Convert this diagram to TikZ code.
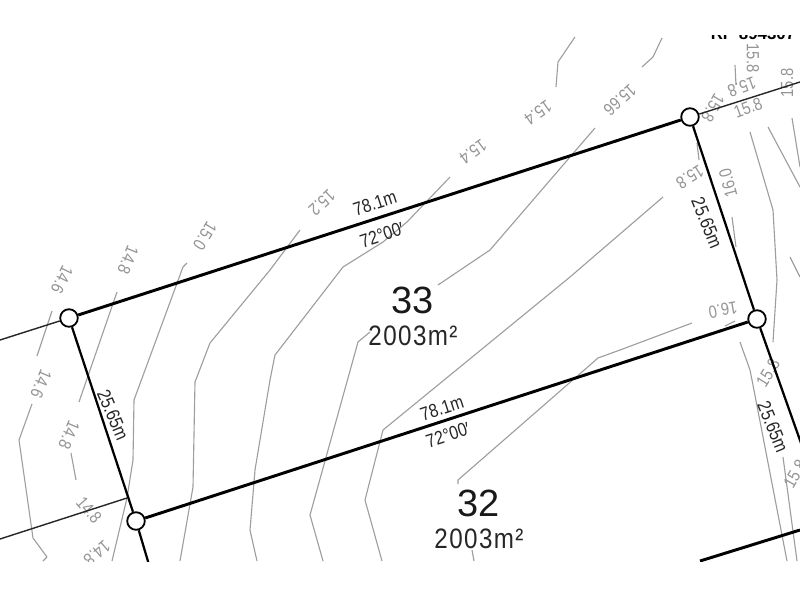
\documentclass[tikz,border=0pt]{standalone}
\usepackage{fontspec}
\setmainfont{Liberation Sans}
\newfontfamily\planfont[FakeStretch=0.84]{Liberation Sans}
\newfontfamily\areafont[FakeStretch=0.86,LetterSpace=5]{Liberation Sans}
\tikzset{
	corner/.style={circle,draw=black,fill=white,line width=1.3pt,minimum size=12.5pt,inner sep=0pt},
	frontage/.style={draw=black,line width=2.1pt},
	sideline/.style={draw=black,line width=1.6pt},
	neighbour/.style={draw=black!85,line width=1pt},
	contour/.style={draw=black!38,line width=0.8pt,line join=round},
	level/.style={text=black!42,font=\planfont\fontsize{12.5}{14}\selectfont,inner sep=0pt},
	dimension/.style={text=black!85,font=\planfont\fontsize{13.5}{15}\selectfont,inner sep=0pt},
	lotno/.style={text=black!90,font=\fontsize{27}{30}\selectfont,inner sep=0pt},
	lotarea/.style={text=black!85,font=\areafont\fontsize{20}{22}\selectfont,inner sep=0pt},
}
\begin{document}
\begin{tikzpicture}[x=0.25mm,y=-0.25mm]
	\useasboundingbox (0,0) rectangle (800,600);
	\clip (0,35) rectangle (800,561);
	% contours
	\draw[contour] (52,311) -- (37,356);
	\draw[contour] (32,404) -- (19,440) -- (33,538) -- (47,557) -- (43,561);
	\draw[contour] (117,292) -- (79,402);
	\draw[contour] (71,453) -- (76,480);
	\draw[contour] (187,263) -- (183,267) -- (134,400) -- (133,460) -- (127,498) -- (112,561);
	\draw[contour] (300,230) -- (270,270) -- (210,343) -- (195,382) -- (193,487) -- (180,561);
	\draw[contour] (450,177) -- (407,222) -- (383,242) -- (343,267) -- (275,355) -- (270,380) -- (255,470) -- (250,530) -- (257,561);
	\draw[contour] (595,128) -- (570,157) -- (490,250) -- (438,285);
	\draw[contour] (370,332) -- (358,342) -- (310,515) -- (323,561);
	\draw[contour] (663,197) -- (570,277) -- (383,430) -- (365,500) -- (382,561);
	\draw[contour] (692,323) -- (620,350) -- (598,358) -- (458,480) -- (458,484);
	\draw[contour] (472,550) -- (474,561);
	\draw[contour] (575,37) -- (558,62) -- (556,87);
	\draw[contour] (662,38) -- (653,57) -- (642,67);
	\draw[contour] (735,65) -- (736,85);
	\draw[contour] (697,143) -- (699,160);
	\draw[contour] (750,132) -- (773,210) -- (777,280) -- (773,342);
	\draw[contour] (768,127) -- (800,187);
	\draw[contour] (792,118) -- (800,167);
	\draw[contour] (732,217) -- (736,247);
	\draw[contour] (790,257) -- (800,277);
	\draw[contour] (740,342) -- (750,370) -- (752,380) -- (787,561);
	\draw[contour] (783,457) -- (797,561);
	\draw[contour] (725,326) -- (735,321);
	% level labels
	\node(LevelA) [level,rotate=-116] at (62,280) {14.6};
	\node(LevelB) [level,rotate=-112] at (128,260) {14.8};
	\node(LevelC) [level,rotate=-113] at (41,384) {14.6};
	\node(LevelD) [level,rotate=-113] at (69,435) {14.8};
	\node(LevelE) [level,rotate=-49] at (89,510) {14.8};
	\node(LevelF) [level,rotate=-139] at (97,553) {14.8};
	\node(LevelG) [level,rotate=-122] at (205,236) {15.0};
	\node(LevelH) [level,rotate=-137] at (322,203) {15.2};
	\node(LevelI) [level,rotate=-144] at (473,152) {15.4};
	\node(LevelJ) [level,rotate=-145] at (538,113) {15.4};
	\node(LevelK) [level,rotate=-138] at (620,100) {15.66};
	\node(LevelL) [level,rotate=-148] at (690,177) {15.8};
	\node(LevelM) [level,rotate=105] at (728,183) {16.0};
	\node(LevelN) [level,rotate=190] at (723,310) {16.0};
	\node(LevelO) [level,rotate=58] at (768,373) {15.8};
	\node(LevelP) [level,rotate=60] at (795,474) {15.8};
	\node(LevelQ) [level,rotate=-90] at (753,58) {15.8};
	\node(LevelR) [level,rotate=-160] at (742,87) {15.8};
	\node(LevelS) [level,rotate=20] at (748,108) {15.8};
	\node(LevelT) [level,rotate=-120] at (713,108) {15.8};
	\node(LevelU) [level,rotate=90] at (787,83) {15.8};
	% lot corners
	\node(CornerA) [corner] at (69,318) {};
	\node(CornerB) [corner] at (690,117) {};
	\node(CornerC) [corner] at (757,319) {};
	\node(CornerD) [corner] at (136,521) {};
	\coordinate(EndA) at (0,340);
	\coordinate(EndB) at (800,82);
	\coordinate(EndC) at (807,460);
	\coordinate(EndD) at (150,568);
	\coordinate(StubD) at (127,498);
	\coordinate(EndE) at (0,539);
	\coordinate(NextA) at (700,561);
	\coordinate(NextB) at (800,530);
	% lot lines
	\draw[frontage] (CornerA) -- (CornerB);
	\draw[frontage] (CornerD) -- (CornerC);
	\draw[sideline] (CornerA) -- (CornerD);
	\draw[sideline] (CornerB) -- (CornerC);
	\draw[sideline] (CornerC) -- (EndC);
	\draw[sideline] (CornerD) -- (EndD);
	\draw[frontage] (NextA) -- (NextB);
	\draw[neighbour] (CornerA) -- (EndA);
	\draw[neighbour] (CornerB) -- (EndB);
	\draw[neighbour] (StubD) -- (EndE);
	% dimensions
	\node(TopLength) [dimension,rotate=18] at (375,203) {78.1m};
	\node(TopBearing) [dimension,rotate=18] at (382,235) {72°00′};
	\node(MidLength) [dimension,rotate=18] at (442,408) {78.1m};
	\node(MidBearing) [dimension,rotate=18] at (448,435) {72°00′};
	\node(LeftWidth) [dimension,rotate=-67] at (113,415) {25.65m};
	\node(UpperWidth) [dimension,rotate=-68] at (707,223) {25.65m};
	\node(LowerWidth) [dimension,rotate=-68] at (773,427) {25.65m};
	% lots
	\node(LotUpper) [lotno] at (413,300) {33};
	\node(AreaUpper) [lotarea] at (413,336) {2003m²};
	\node(LotLower) [lotno] at (479,503) {32};
	\node(AreaLower) [lotarea] at (479,539) {2003m²};
	% plan number, cut by the crop
	\node(PlanNo) [text=black,font=\fontsize{12}{14}\bfseries\selectfont,inner sep=0pt] at (753,33.5) {RP 894307};
\end{tikzpicture}
\end{document}
